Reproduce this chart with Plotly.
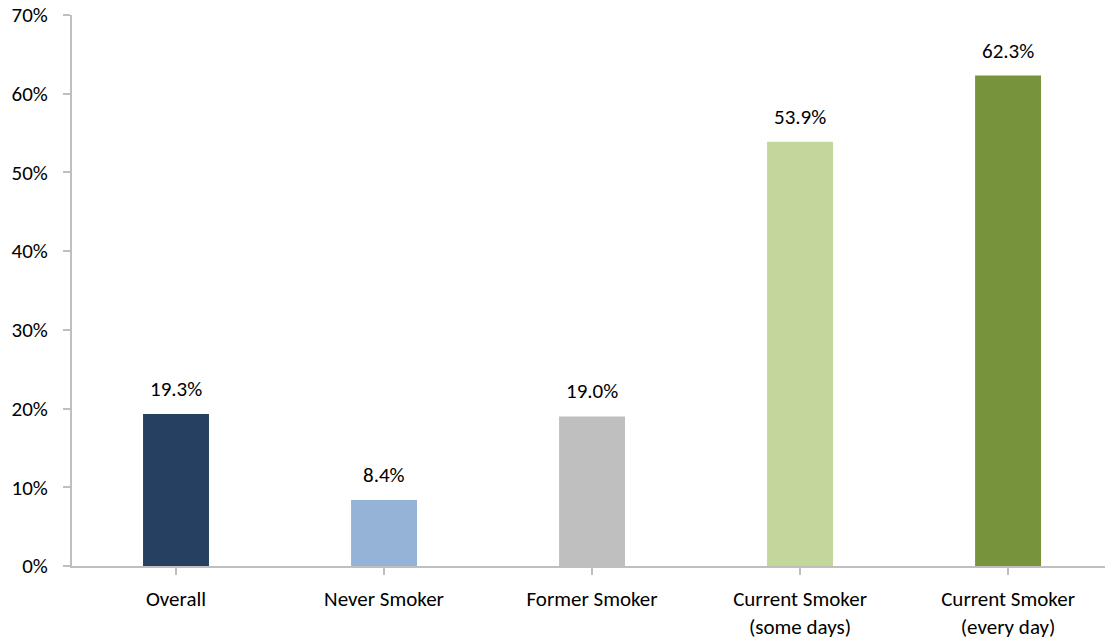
import plotly.graph_objects as go

# Share of adults in each smoking-status group (percent)
categories = ["Overall", "Never Smoker", "Former Smoker",
              "Current Smoker<br>(some days)", "Current Smoker<br>(every day)"]
values = [19.3, 8.4, 19.0, 53.9, 62.3]
bar_colors = ["#264061", "#95B3D7", "#BFBFBF", "#C3D69B", "#77933C"]
y_ticks = [0, 10, 20, 30, 40, 50, 60, 70]

font_family = "Carlito, Lato, 'Open Sans', sans-serif"
font_size = 21
axis_grey = "#BFBFBF"
x_pos = list(range(len(categories)))

fig = go.Figure(
    go.Bar(
        x=x_pos,
        y=values,
        marker=dict(color=bar_colors, line=dict(width=0)),
        hoverinfo="skip",
    )
)

# Value labels sitting above each bar
for xi, v in zip(x_pos, values):
    fig.add_annotation(
        x=xi, y=v, text=f"{v:.1f}%",
        showarrow=False, yanchor="bottom", yshift=10,
        font=dict(size=font_size, color="#000000", family=font_family),
    )

fig.update_layout(
    width=1105,
    height=642,
    margin=dict(l=72, r=0, t=15, b=76),
    paper_bgcolor="white",
    plot_bgcolor="white",
    bargap=0.683,
    showlegend=False,
    font=dict(family=font_family, size=font_size, color="#000000"),
)

fig.update_xaxes(
    tickmode="array",
    tickvals=x_pos,
    ticktext=categories,
    range=[-0.5, 4.466],
    showline=True,
    linecolor=axis_grey,
    linewidth=2,
    ticks="outside",
    tickson="boundaries",
    ticklen=7,
    tickcolor=axis_grey,
    tickwidth=2,
    showgrid=False,
    zeroline=False,
    ticklabelstandoff=6,
    tickfont=dict(size=font_size, family=font_family),
)

fig.update_yaxes(
    range=[0, 70],
    tickvals=y_ticks,
    ticktext=[f"{t}%" for t in y_ticks],
    showline=True,
    linecolor=axis_grey,
    linewidth=2,
    ticks="outside",
    ticklen=7,
    tickcolor=axis_grey,
    tickwidth=2,
    showgrid=False,
    zeroline=False,
    ticklabelstandoff=11,
    tickfont=dict(size=font_size, family=font_family),
)

fig.write_html("out.html")
